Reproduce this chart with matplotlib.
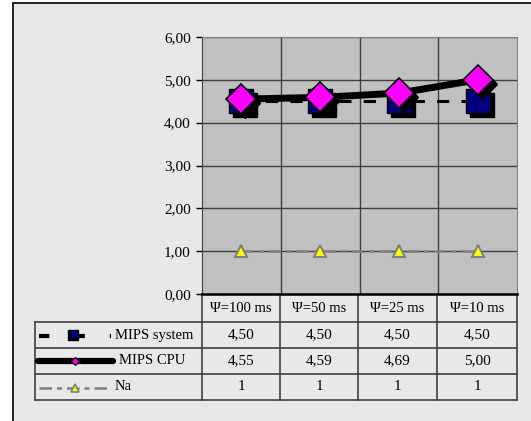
import matplotlib
matplotlib.use("Agg")
import matplotlib.pyplot as plt
import matplotlib.transforms as mtransforms
from matplotlib.patches import Rectangle

categories = ["Ψ=100 ms", "Ψ=50 ms", "Ψ=25 ms", "Ψ=10 ms"]
mips_system = [4.50, 4.50, 4.50, 4.50]
mips_cpu = [4.55, 4.59, 4.69, 5.00]
na = [1, 1, 1, 1]
series_names = ["MIPS system", "MIPS CPU", "Na"]
table_text = [["4,50", "4,50", "4,50", "4,50"],
              ["4,55", "4,59", "4,69", "5,00"],
              ["1", "1", "1", "1"]]
yticks = [0, 1, 2, 3, 4, 5, 6]

plt.rcParams["font.family"] = ["Liberation Serif", "DejaVu Serif"]
W, H, DPI = 531, 421, 100
_BG = "#e8e8e8"
_PLOT = "#c0c0c0"
_GRID = "#404040"

fig = plt.figure(figsize=(W / DPI, H / DPI), dpi=DPI)
fig.patch.set_facecolor("white")

# pixel-space overlay for frame and table
pax = fig.add_axes([0, 0, 1, 1])
pax.set_xlim(0, W)
pax.set_ylim(H, 0)
pax.axis("off")
pax.add_patch(Rectangle((13, 3), W + 10, H + 10, facecolor=_BG, edgecolor="black", lw=1.2))

# main plot
x0, x1, y0, y1 = 202, 517, 294, 37
ax = fig.add_axes([x0 / W, 1 - y0 / H, (x1 - x0) / W, (y0 - y1) / H])
ax.set_facecolor(_PLOT)
xs = list(range(len(categories)))
ax.set_xlim(-0.5, len(categories) - 0.5)
ax.set_ylim(0, 6)
ax.set_yticks(yticks)
ax.set_yticklabels([f"{v:.2f}".replace(".", ",") for v in yticks], fontsize=11)
ax.set_xticks([])
ax.tick_params(axis="y", length=4, width=1, color="black", pad=4)
for v in yticks[1:]:
    ax.axhline(v, color=_GRID, lw=1, zorder=1)
for b in [0.5, 1.5, 2.5]:
    ax.axvline(b, color=_GRID, lw=1, zorder=1)
for s in ["top", "right", "left"]:
    ax.spines[s].set_color("#808080")
ax.spines["bottom"].set_color("black")
ax.spines["bottom"].set_linewidth(1.8)
ax.spines["left"].set_color("#404040")

shadow = mtransforms.offset_copy(ax.transData, fig=fig, x=4, y=-4, units="dots")
ax.plot(xs, mips_system, color="black", lw=2.2, dashes=(4, 4), zorder=3)
ax.plot(xs, mips_system, "s", ms=17.5, color="black", transform=shadow, zorder=4)
ax.plot(xs, mips_system, "s", ms=17.5, mfc="#000080", mec="black", mew=1, zorder=5)
ax.plot(xs, mips_cpu, color="black", lw=5, solid_capstyle="round", zorder=6)
ax.plot(xs, mips_cpu, "D", ms=15, color="black", transform=shadow, zorder=6)
ax.plot(xs, mips_cpu, "D", ms=15, mfc="#ff00ff", mec="black", mew=1.2, zorder=7)
ax.plot(xs, na, color="#808080", lw=1.8, dashes=(5, 2, 2, 2), zorder=3)
ax.plot(xs, na, "^", ms=9, mfc="#ffff00", mec="#808080", mew=1.5, zorder=4)

# data table
col_x = [x0, 280, 358, 437, x1]
row_y = [294, 322, 348, 374, 400]
tl = 35
for i, name in enumerate(categories):
    pax.text((col_x[i] + col_x[i + 1]) / 2, (row_y[0] + row_y[1]) / 2 + 1, name,
             ha="center", va="center", fontsize=10.5, family=["Liberation Serif", "DejaVu Serif"])
for r in range(3):
    ym = (row_y[r + 1] + row_y[r + 2]) / 2
    for c in range(4):
        pax.text((col_x[c] + col_x[c + 1]) / 2, ym, table_text[r][c],
                 ha="center", va="center", fontsize=11)
lc = "#404040"
for y in row_y[1:]:
    pax.plot([tl, x1], [y, y], color=lc, lw=1.2)
pax.plot([tl, tl], [row_y[1], row_y[-1]], color=lc, lw=1.2)
for x in col_x:
    pax.plot([x, x], [row_y[0], row_y[-1]], color=lc, lw=1.2)

# legend keys
ky = [(row_y[1] + row_y[2]) / 2, (row_y[2] + row_y[3]) / 2, (row_y[3] + row_y[4]) / 2]
pax.plot([39, 111], [ky[0] + 1, ky[0] + 1], color="black", lw=3, dashes=(2.5, 6))
pax.plot([73], [ky[0]], "s", ms=7, color="black")
pax.plot([74], [ky[0] - 1], "s", ms=6, mfc="#000080", mec="black", mew=0.5)
pax.plot([38, 113], [ky[1], ky[1]], color="black", lw=4.5, solid_capstyle="round")
pax.plot([75], [ky[1]], "D", ms=4, mfc="#ff00ff", mec="black", mew=0.8)
pax.plot([39, 111], [ky[2] + 1, ky[2] + 1], color="#808080", lw=1.8, dashes=(5, 2, 2, 2))
pax.plot([75], [ky[2] + 1], "^", ms=6, mfc="#ffff00", mec="#808080", mew=1.2)
pax.text(115, ky[0], series_names[0], ha="left", va="center", fontsize=10.5)
pax.text(119, ky[1], series_names[1], ha="left", va="center", fontsize=10.5)
pax.text(115, ky[2], series_names[2], ha="left", va="center", fontsize=10.5)

fig.savefig("out.png", dpi=DPI)
